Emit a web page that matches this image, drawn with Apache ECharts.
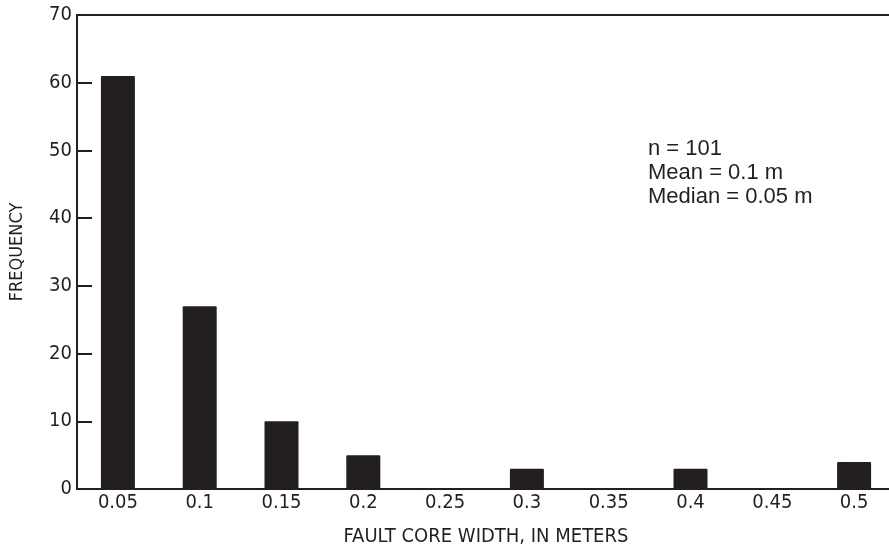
<!DOCTYPE html>
<html>
<head>
<meta charset="utf-8">
<script src="https://cdn.jsdelivr.net/npm/echarts@6/dist/echarts.min.js"></script>
<style>
  html, body { margin: 0; padding: 0; background: #fff; }
  #chart { width: 889px; height: 550px; }
</style>
</head>
<body>
<div id="chart"></div>
<script>
// Fault core width classes (m) and how many faults fall in each
const widthClasses = ['0.05', '0.1', '0.15', '0.2', '0.25', '0.3', '0.35', '0.4', '0.45', '0.5'];
const frequency = [61, 27, 10, 5, 0, 3, 0, 3, 0, 4];
const statsLines = ['n = 101', 'Mean = 0.1 m', 'Median = 0.05 m'];

const ink = '#231f20';
const narrow = '"Liberation Sans Narrow", "DejaVu Sans Condensed", "Arial Narrow", sans-serif';

const chart = echarts.init(document.getElementById('chart'), null, { renderer: 'canvas' });

chart.setOption({
  animation: false,
  grid: {
    left: 77, right: -6, top: 15, bottom: 61,
    containLabel: false,
    outerBoundsMode: 'none'
  },
  xAxis: [
    {
      type: 'category',
      data: widthClasses,
      boundaryGap: true,
      axisLine: { show: true, lineStyle: { color: ink, width: 2 } },
      axisTick: { show: false },
      axisLabel: { color: ink, fontFamily: narrow, fontSize: 20, margin: 4 },
      name: 'FAULT CORE WIDTH, IN METERS',
      nameLocation: 'middle',
      nameGap: 38,
      nameMoveOverlap: false,
      nameTextStyle: { color: ink, fontFamily: narrow, fontSize: 20 }
    },
    {
      type: 'category',
      data: widthClasses,
      position: 'top',
      axisLine: { show: true, lineStyle: { color: ink, width: 2 } },
      axisTick: { show: false },
      axisLabel: { show: false }
    }
  ],
  yAxis: {
    type: 'value',
    min: 0,
    max: 70,
    interval: 10,
    axisLine: { show: true, lineStyle: { color: ink, width: 2 } },
    axisTick: { show: true, inside: true, length: 15, lineStyle: { color: ink, width: 2 } },
    splitLine: { show: false },
    axisLabel: { color: ink, fontFamily: narrow, fontSize: 20, margin: 5 },
    name: 'FREQUENCY',
    nameLocation: 'middle',
    nameGap: 51,
    nameMoveOverlap: false,
    nameTextStyle: { color: ink, fontFamily: narrow, fontSize: 18 }
  },
  series: [
    {
      type: 'bar',
      data: frequency,
      barWidth: 34,
      itemStyle: { color: ink, borderRadius: [1, 1, 0, 0] },
      z: 1
    }
  ],
  graphic: [
    {
      type: 'text',
      left: 648,
      top: 137,
      style: {
        text: statsLines.join('\n'),
        fill: ink,
        font: '22px "Liberation Sans", Arial, sans-serif',
        lineHeight: 24
      }
    }
  ]
});
</script>
</body>
</html>
